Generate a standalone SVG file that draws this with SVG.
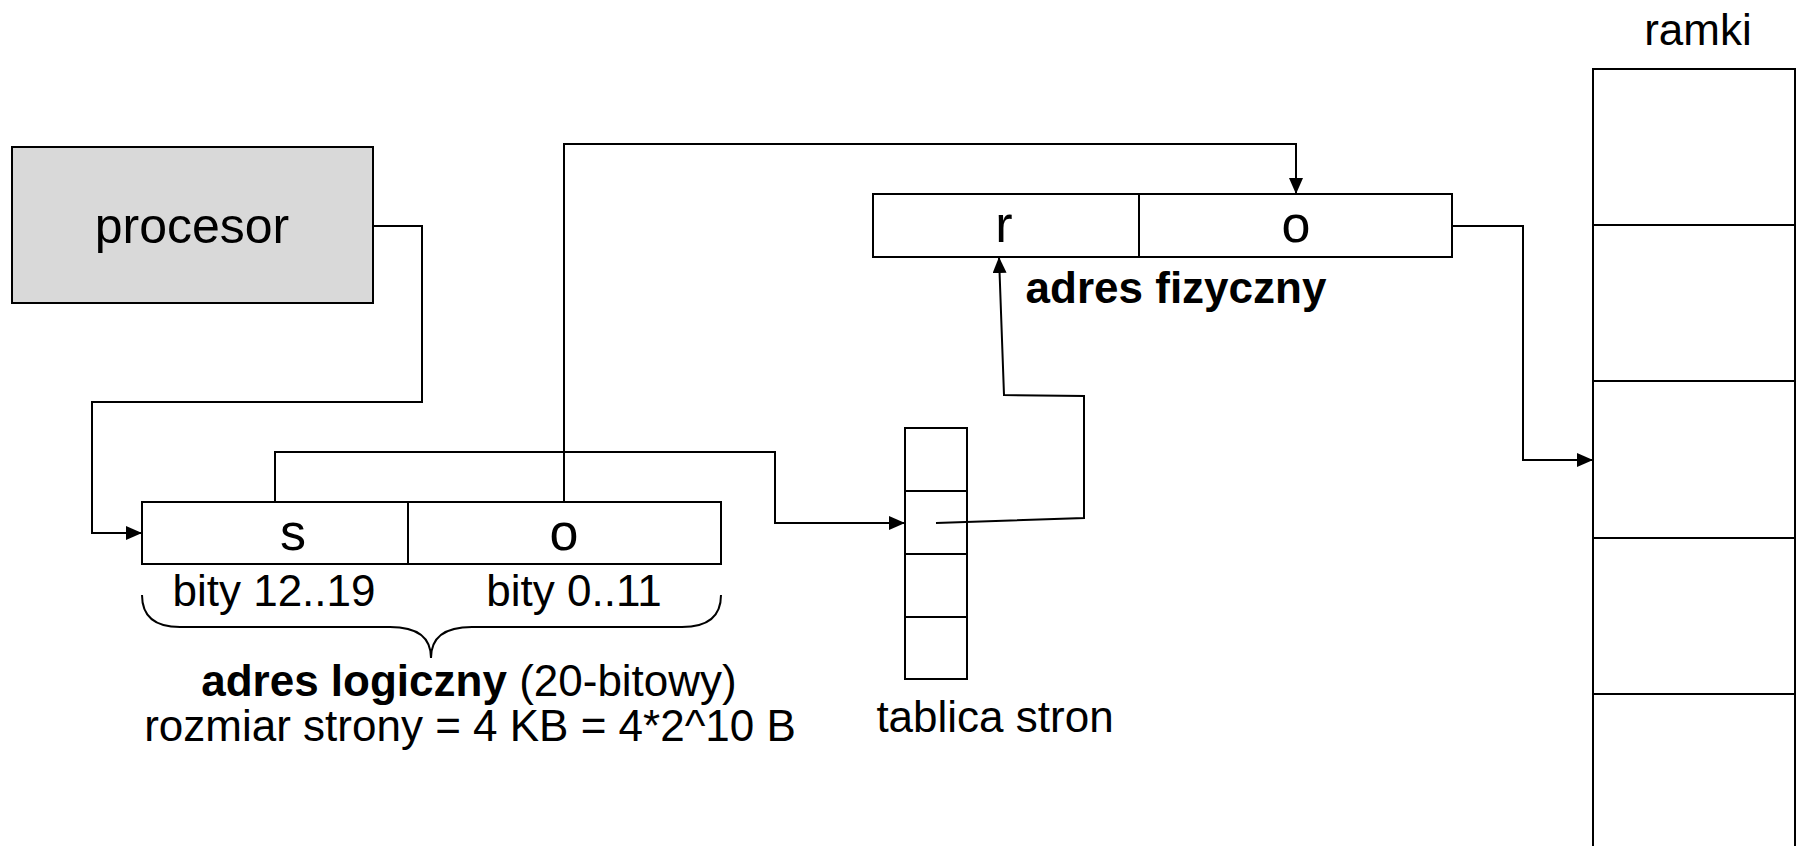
<svg xmlns="http://www.w3.org/2000/svg" width="1796" height="846" viewBox="0 0 1796 846">
<style>
text{font-family:"Liberation Sans",Arial,sans-serif;fill:#000}
.t{font-size:44px}
.L{font-size:52px}
.c{text-anchor:middle}
.b{font-weight:bold}
.box{fill:#fff;stroke:#000;stroke-width:2}
.ln{fill:none;stroke:#000;stroke-width:2}
.con{fill:none;stroke:#000;stroke-width:2;marker-end:url(#arr)}
</style>
<defs>
<marker id="arr" markerUnits="userSpaceOnUse" markerWidth="16" markerHeight="14" refX="16" refY="7" orient="auto">
<path d="M0,0 L16,7 L0,14 z" fill="#000"/>
</marker>
</defs>
<rect width="1796" height="846" fill="#fff"/>

<g id="procesor">
<rect x="12" y="147" width="361" height="156" fill="#d9d9d9" stroke="#000" stroke-width="2"/>
<text class="c" x="192" y="243" style="font-size:50px">procesor</text>
</g>

<g id="adres-logiczny">
<rect class="box" x="142" y="502" width="579" height="62"/>
<line class="ln" x1="408" y1="502" x2="408" y2="564"/>
<text class="L c" x="293" y="550">s</text>
<text class="L c" x="564" y="550">o</text>
<text class="t c" x="274" y="606">bity 12..19</text>
<text class="t c" x="574" y="606">bity 0..11</text>
<path class="ln" d="M142,595 Q142,627 180,627 L390,627 Q431,627 431,658 Q431,627 472,627 L682,627 Q721,627 721,595"/>
<text class="t c" x="469" y="696"><tspan class="b">adres logiczny</tspan> (20-bitowy)</text>
<text class="t c" x="470" y="741">rozmiar strony = 4 KB = 4*2^10 B</text>
</g>

<g id="tablica-stron">
<rect class="box" x="905" y="428" width="62" height="251"/>
<line class="ln" x1="905" y1="491" x2="967" y2="491"/>
<line class="ln" x1="905" y1="554" x2="967" y2="554"/>
<line class="ln" x1="905" y1="617" x2="967" y2="617"/>
<text class="t c" x="995" y="732">tablica stron</text>
</g>

<g id="adres-fizyczny">
<rect class="box" x="873" y="194" width="579" height="63"/>
<line class="ln" x1="1139" y1="194" x2="1139" y2="257"/>
<text class="L c" x="1004" y="242">r</text>
<text class="L c" x="1296" y="242">o</text>
<text class="t c b" x="1176" y="303">adres fizyczny</text>
</g>

<g id="ramki">
<text class="t c" x="1698" y="45">ramki</text>
<rect class="box" x="1593" y="69" width="202" height="800"/>
<line class="ln" x1="1593" y1="225" x2="1795" y2="225"/>
<line class="ln" x1="1593" y1="381" x2="1795" y2="381"/>
<line class="ln" x1="1593" y1="538" x2="1795" y2="538"/>
<line class="ln" x1="1593" y1="694" x2="1795" y2="694"/>
</g>

<g id="connectors">
<polyline class="con" points="373,226 422,226 422,402 92,402 92,533 142,533"/>
<polyline class="con" points="275,502 275,452 775,452 775,523 905,523"/>
<polyline class="con" points="936,523 1084,518 1084,396 1004,395 999,257"/>
<polyline class="con" points="564,502 564,144 1296,144 1296,194"/>
<polyline class="con" points="1452,226 1523,226 1523,460 1593,460"/>
</g>
</svg>
